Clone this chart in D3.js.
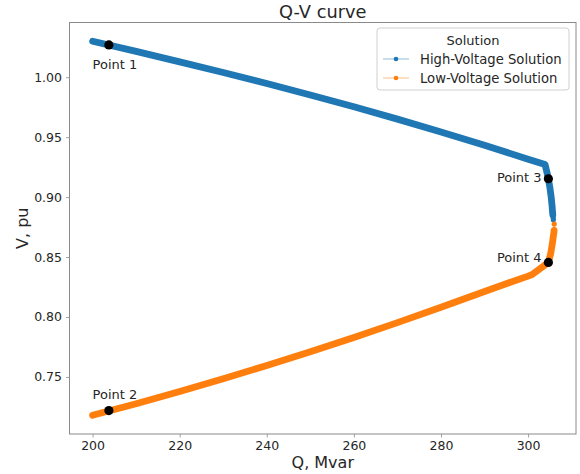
<!DOCTYPE html>
<html><head><meta charset="utf-8">
<script src="https://cdn.jsdelivr.net/npm/d3@7"></script>
<style>body{margin:0;background:#fff}svg{display:block;font-family:"DejaVu Sans",sans-serif}</style>
</head><body><div id="chart"></div>
<script>
// High-voltage branch (Q in Mvar, V in pu)
const highQ = [200, 210, 220, 230, 240, 250, 260, 270, 280, 290, 300, 303.9, 304.3, 304.66, 305.0, 305.3, 305.5, 305.67];
const highV = [1.030, 1.0215, 1.0128, 1.0039, 0.9947, 0.9852, 0.9753, 0.9650, 0.9543, 0.9432, 0.9316, 0.9272, 0.921, 0.9153, 0.908, 0.900, 0.893, 0.8853];
const highTailQ = [305.67, 305.75, 305.8];
const highTailV = [0.8853, 0.883, 0.881];
// Low-voltage branch
const lowQ = [200, 210, 220, 230, 240, 250, 260, 270, 280, 290, 300, 300.85, 302.8, 304.66, 305.2, 305.6, 305.85, 305.97];
const lowV = [0.718, 0.7277, 0.7379, 0.7485, 0.7595, 0.7710, 0.7829, 0.7953, 0.8081, 0.8213, 0.8341, 0.8353, 0.8405, 0.8455, 0.853, 0.862, 0.8685, 0.8722];
const lowTailQ = [305.97, 306.0];
const lowTailV = [0.8722, 0.8775];
// Marked points
const pointNames = ["Point 1", "Point 2", "Point 3", "Point 4"];
const pointQ = [203.74, 203.74, 304.66, 304.66];
const pointV = [1.0269, 0.7219, 0.9153, 0.8455];
const xTicks = [200, 220, 240, 260, 280, 300];
const yTicks = [0.75, 0.80, 0.85, 0.90, 0.95, 1.00];
const seriesNames = ["High-Voltage Solution", "Low-Voltage Solution"];
const colors = ["#1f77b4", "#ff7f0e"];

const W = 580, H = 474;
const m = {left: 69.5, right: 4, top: 22.5, bottom: 40};
const svg = d3.select("#chart").append("svg").attr("width", W).attr("height", H);
const x = d3.scaleLinear().domain([194.7, 311]).range([m.left, W - m.right]);
const y = d3.scaleLinear().domain([0.7024, 1.0456]).range([H - m.bottom, m.top]);
const txt = "#262626", spine = "#8a8a8a";

// axes
const gx = svg.append("g").attr("transform", `translate(0,${H - m.bottom})`)
  .call(d3.axisBottom(x).tickValues(xTicks).tickFormat(d3.format("d")).tickSizeOuter(0).tickSize(3.5).tickPadding(4));
const gy = svg.append("g").attr("transform", `translate(${m.left},0)`)
  .call(d3.axisLeft(y).tickValues(yTicks).tickFormat(d3.format(".2f")).tickSizeOuter(0).tickSize(3.5).tickPadding(4));
[gx, gy].forEach(g => {
  g.selectAll(".domain").remove();
  g.selectAll("line").attr("stroke", spine).attr("stroke-width", 0.8);
  g.selectAll("text").attr("fill", txt).style("font-size", "12.5px").style("font-family", '"DejaVu Sans"');
});
// frame
svg.append("rect").attr("x", m.left).attr("y", m.top)
  .attr("width", W - m.right - m.left).attr("height", H - m.bottom - m.top)
  .attr("fill", "none").attr("stroke", spine).attr("stroke-width", 1);

const line = d3.line().x(d => x(d[0])).y(d => y(d[1]));
function drawSeries(Q, V, tQ, tV, c) {
  const pts = Q.map((q, i) => [q, V[i]]);
  const tail = tQ.map((q, i) => [q, tV[i]]);
  svg.append("path").datum(pts).attr("d", line).attr("fill", "none")
    .attr("stroke", c).attr("stroke-width", 6.8).attr("stroke-linejoin", "round").attr("stroke-linecap", "round");
  svg.append("path").datum(tail).attr("d", line).attr("fill", "none")
    .attr("stroke", c).attr("stroke-width", 1).attr("stroke-opacity", 0.6);
  svg.selectAll(null).data(tail.slice(1)).enter().append("circle")
    .attr("cx", d => x(d[0])).attr("cy", d => y(d[1])).attr("r", 2.6).attr("fill", c);
}
drawSeries(highQ, highV, highTailQ, highTailV, colors[0]);
drawSeries(lowQ, lowV, lowTailQ, lowTailV, colors[1]);

// marked points
pointNames.forEach((n, i) => {
  svg.append("circle").attr("cx", x(pointQ[i])).attr("cy", y(pointV[i])).attr("r", 4.6).attr("fill", "#000");
});
const labelPos = [
  {anchor: "start", x: 200, v: 1.0108},
  {anchor: "start", x: 200, v: 0.7350},
  {anchor: "end", x: 303.1, v: 0.9165},
  {anchor: "end", x: 303.1, v: 0.8497}
];
pointNames.forEach((n, i) => {
  const p = labelPos[i];
  svg.append("text").attr("x", x(p.x)).attr("y", y(p.v)).attr("dy", "0.35em")
    .attr("text-anchor", p.anchor).attr("fill", txt).style("font-size", "13px").text(n);
});

// title & labels
svg.append("text").attr("x", (m.left + W - m.right) / 2).attr("y", 18).attr("text-anchor", "middle")
  .attr("fill", txt).style("font-size", "17.8px").text("Q-V curve");
svg.append("text").attr("x", (m.left + W - m.right) / 2).attr("y", 468).attr("text-anchor", "middle")
  .attr("fill", txt).style("font-size", "16px").text("Q, Mvar");
svg.append("text").attr("transform", `translate(28,${(m.top + H - m.bottom) / 2}) rotate(-90)`)
  .attr("text-anchor", "middle").attr("fill", txt).style("font-size", "16px").text("V, pu");

// legend
const lg = svg.append("g").attr("transform", "translate(377,28)");
lg.append("rect").attr("width", 192).attr("height", 62).attr("rx", 3)
  .attr("fill", "#fff").attr("fill-opacity", 0.8).attr("stroke", "#d0d0d0").attr("stroke-width", 1);
lg.append("text").attr("x", 96).attr("y", 12).attr("dy", "0.35em").attr("text-anchor", "middle")
  .attr("fill", txt).style("font-size", "13px").text("Solution");
seriesNames.forEach((s, i) => {
  const yy = 31 + i * 19;
  lg.append("line").attr("x1", 6).attr("x2", 32).attr("y1", yy).attr("y2", yy)
    .attr("stroke", colors[i]).attr("stroke-width", 1).attr("stroke-opacity", 0.5);
  lg.append("circle").attr("cx", 19).attr("cy", yy).attr("r", 2.3).attr("fill", colors[i]);
  lg.append("text").attr("x", 43).attr("y", yy).attr("dy", "0.35em")
    .attr("fill", txt).style("font-size", "13.2px").text(s);
});
</script></body></html>
